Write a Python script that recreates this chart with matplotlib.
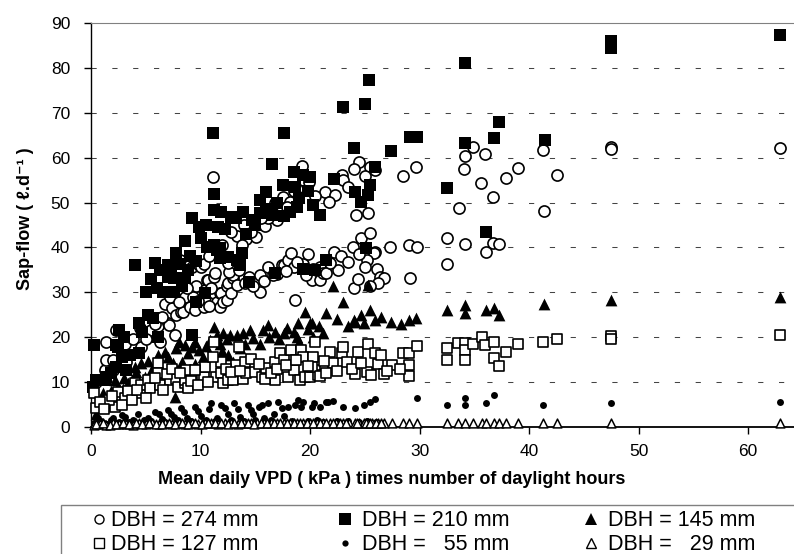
import matplotlib.pyplot as plt
from matplotlib.lines import Line2D
from matplotlib.patches import Rectangle

plt.rcParams['font.family'] = ['Liberation Sans', 'DejaVu Sans']

# DBH = 274 mm
x_274 = [0.5, 1.3, 2.0, 1.4, 2.0, 1.4, 2.3, 3.1, 3.8, 4.5, 4.6, 5.5, 6.1, 6.3,
         7.0, 7.1, 7.7, 6.8, 7.4, 7.8, 8.2, 8.4, 8.6, 9.0, 9.3, 9.5, 10.3, 9.6,
         10.4, 10.4, 10.6, 10.7, 11.2, 11.3, 11.2, 11.5, 11.8, 11.8, 11.9, 12.1,
         12.4, 12.4, 12.5, 12.8, 13.0, 13.0, 13.3, 14.1, 14.4, 15.4, 15.4, 16.2,
         17.0, 17.4, 17.6, 18.0, 18.3, 18.5, 19.4, 20.0, 20.2, 20.9, 20.9, 21.2,
         20.3, 21.5, 22.6, 22.2, 23.9, 24.7, 25.5, 25.9, 25.8, 25.2, 25.0, 26.1,
         26.4, 26.8, 26.2, 24.0, 27.3, 29.0, 29.8, 29.1, 18.6, 9.2, 9.9, 8.1,
         10.0, 10.3,
         3.2, 5.0, 5.8, 6.5, 7.2, 8.0, 8.8, 9.8, 10.8, 11.0, 12.6, 13.5, 14.8,
         15.8, 16.6, 17.8, 18.8, 19.8, 19.6, 21.8, 22.8, 23.5, 24.5, 24.4, 25.5,
         10.8, 12.5,
         11.1, 13.3, 14.2, 15.1, 15.9, 16.5, 17.0, 17.5, 18.2, 18.8, 19.3, 14.6,
         16.2, 17.9, 21.4, 22.3, 21.7, 22.9, 23.0, 24.5, 25.5, 25.9, 25.0, 24.2,
         25.3, 28.5, 29.7, 12.0, 12.8, 14.0, 15.5, 16.8, 18.5, 19.9, 20.5, 23.5,
         24.0, 13.8,
         32.5, 32.5, 33.6, 34.2, 34.1, 34.2, 34.9, 35.6, 36.0, 36.7, 36.7, 37.3,
         36.1, 37.9, 39.0, 41.3, 41.4, 42.6, 47.5, 47.5, 62.9]
y_274 = [10.0, 12.7, 12.7, 14.9, 14.9, 19.0, 21.6, 18.6, 19.5, 22.0, 17.9, 21.5, 22.5, 19.0,
         23.1, 22.7, 20.5, 27.4, 26.4, 24.9, 25.7, 25.7, 29.0, 26.8, 29.0, 26.1, 26.8, 31.3,
         30.5, 29.0, 32.7, 32.7, 33.5, 34.2, 29.8, 27.9, 26.8, 29.8, 29.8, 27.9,
         28.3, 31.3, 32.0, 29.8, 33.1, 33.9, 31.6, 32.0, 33.5, 33.9, 30.1, 35.7,
         34.0, 36.1, 36.1, 37.2, 38.7, 35.7, 36.4, 35.0, 32.7, 35.7, 32.7, 34.2,
         35.3, 34.2, 35.0, 39.0, 40.2, 42.0, 43.3, 39.0, 38.7, 37.2, 35.7, 35.3,
         33.5, 33.1, 32.0, 30.9, 40.2, 40.5, 40.2, 33.3, 28.4, 35.7, 36.1, 37.2,
         35.7, 36.4,
         14.5, 19.5, 23.0, 24.5, 29.0, 27.8, 31.0, 28.0, 27.0, 31.0, 34.5, 35.0, 31.5,
         32.5, 33.8, 34.8, 36.8, 38.5, 33.8, 36.5, 38.0, 36.8, 38.5, 33.0, 31.5,
         38.0, 36.5,
         55.7, 42.5, 41.8, 42.4, 44.8, 48.0, 46.1, 51.2, 50.2, 53.0, 58.1, 43.5,
         46.5, 49.0, 52.4, 51.7, 50.2, 56.1, 55.0, 59.1, 58.0, 57.2, 55.9, 47.2,
         47.6, 55.9, 58.0, 40.5, 43.5, 45.0, 46.5, 50.0, 52.5, 54.5, 51.5, 53.5,
         57.5, 40.5,
         42.2, 36.3, 48.8, 40.7, 57.5, 60.4, 62.4, 54.3, 60.8, 51.3, 41.1, 40.7,
         38.9, 55.4, 57.6, 61.8, 48.2, 56.1, 62.4, 62.0, 62.2]

# DBH = 210 mm
x_210 = [0.2, 0.5, 1.3, 1.4, 0.3, 2.3, 2.5, 2.8, 3.2, 2.3, 4.4, 2.6, 4.4, 4.7,
         5.7, 6.1, 9.2, 4.0, 5.8, 7.0, 7.8, 8.0, 7.0, 7.6, 8.6, 8.9, 6.0, 6.6,
         7.6, 8.6, 9.2, 9.9, 9.6, 10.4, 10.6, 11.2, 11.8, 11.5, 11.8, 12.5, 13.3,
         13.8, 13.6, 11.2, 11.9, 11.6, 13.2, 13.9, 14.7, 15.4, 16.5, 17.6, 18.2,
         18.8, 11.1, 17.6, 16.5, 11.2, 18.5, 19.4, 20.0, 18.6, 16.0, 15.4, 14.4,
         16.8, 19.4, 20.5, 20.3, 20.9, 21.5, 22.2, 23.0, 25.0, 25.4, 24.0, 24.1,
         24.7, 25.3, 25.5, 25.9, 25.1, 27.4, 29.1, 29.8, 32.5, 34.2, 34.2, 36.1,
         36.8, 37.3, 41.5, 47.5, 47.5, 62.9,
         5.0, 5.5, 6.3, 7.3, 8.3, 9.0, 9.6, 10.0, 10.5, 12.2, 12.8, 14.2, 15.0,
         16.0, 17.0, 17.5, 19.0, 19.8, 1.8, 3.6, 3.0, 5.2]
y_210 = [9.0, 10.5, 10.5, 11.2, 18.3, 18.3, 17.9, 15.7, 12.7, 13.4, 16.4, 21.6, 23.1, 21.2,
         24.2, 20.1, 20.5, 36.1, 36.6, 36.1, 38.7, 36.4, 33.5, 33.1, 33.1, 35.0, 30.9, 30.1,
         30.1, 41.5, 46.5, 44.6, 27.9, 29.8, 40.2, 40.5, 39.8, 39.4, 37.6, 37.9, 37.2,
         38.7, 36.1, 48.3, 48.0, 44.6, 46.5, 48.0, 46.1, 47.6, 47.2, 46.9, 48.0,
         49.1, 65.4, 65.4, 58.6, 52.0, 56.9, 56.1, 55.7, 53.5, 52.4, 50.6, 32.4,
         34.2, 35.3, 35.0, 49.4, 47.2, 37.3, 55.3, 71.2, 71.9, 77.4, 62.1, 52.4,
         50.2, 51.7, 53.9, 58.0, 39.9, 61.5, 64.5, 64.5, 53.3, 81.0, 63.2, 43.5,
         64.3, 68.0, 63.9, 84.5, 86.0, 87.3,
         30.0, 33.0, 35.0, 35.5, 31.5, 38.0, 37.0, 42.0, 45.0, 44.0, 46.8, 43.0, 45.0,
         48.5, 50.0, 54.0, 51.0, 52.5, 12.0, 16.0, 20.0, 25.0]

# DBH = 145 mm
x_145 = [0.5, 1.1, 1.8, 2.5, 3.4, 4.1, 4.9, 4.0, 4.6, 5.5, 6.1, 7.0, 7.7, 7.8,
         8.3, 8.9, 9.9, 9.5, 6.5, 7.3, 9.2, 10.2, 10.9, 11.2, 11.8, 12.1, 12.5,
         12.7, 13.0, 13.3, 13.6, 14.1, 14.5, 15.4, 16.2, 16.3, 17.6, 17.9, 18.5,
         18.8, 18.9, 19.5, 20.0, 20.3, 20.2, 21.5, 22.1, 23.0, 24.0, 24.1, 24.7,
         24.9, 25.3, 25.5, 25.9, 27.4, 29.0, 29.7, 32.5, 34.2, 34.2, 36.1, 36.8,
         37.3, 41.4, 47.5, 62.9,
         0.8, 1.5, 2.2, 2.9, 3.0, 3.7, 5.2, 5.8, 6.8, 7.5, 8.0, 8.6, 9.5, 10.5,
         11.5, 12.0, 12.4, 13.9, 14.8, 15.7, 16.8, 17.2, 19.0, 19.8, 20.8, 21.2,
         22.5, 23.5, 26.5, 28.3]
y_145 = [3.0, 7.5, 8.0, 9.0, 9.7, 12.3, 11.2, 13.4, 14.2, 12.5, 16.0, 15.7, 6.7, 17.5,
         14.5, 16.4, 17.1, 14.0, 12.0, 11.0, 17.9, 15.5, 19.4, 22.3, 18.6, 20.9, 16.0,
         20.5, 14.5, 20.5, 17.5, 18.6, 21.6, 18.6, 22.7, 20.1, 20.9, 22.0, 21.2,
         20.1, 23.1, 25.7, 23.2, 20.1, 23.1, 25.3, 31.3, 27.9, 23.8, 23.5, 24.9,
         23.1, 31.6, 26.1, 23.8, 23.5, 23.8, 24.2, 26.1, 27.2, 25.3, 26.1, 26.4,
         24.9, 27.5, 28.2, 28.9,
         5.0, 6.0, 10.5, 8.5, 11.0, 10.5, 14.8, 13.5, 16.8, 14.2, 19.0, 18.2, 19.0, 18.0,
         20.5, 17.0, 19.5, 21.0, 19.8, 21.5, 21.2, 19.6, 19.0, 21.8, 22.5, 21.0,
         24.0, 22.5, 24.5, 23.0]

# DBH = 127 mm
x_127 = [0.3, 0.5, 1.6, 2.2, 2.5, 3.1, 1.6, 4.0, 4.6, 4.6, 5.2, 5.4, 6.3, 6.1,
         6.1, 7.2, 7.8, 7.9, 8.6, 8.6, 8.7, 8.9, 10.1, 10.3, 10.4, 11.2, 11.4,
         11.9, 11.9, 12.1, 12.5, 13.0, 13.2, 13.5, 13.9, 14.1, 14.2, 15.0, 15.6,
         16.0, 16.8, 16.8, 17.3, 17.6, 18.0, 18.3, 18.5, 19.1, 19.2, 19.4, 19.5,
         20.3, 20.5, 20.0, 20.7, 20.5, 20.2, 20.9, 21.8, 22.1, 22.9, 23.0, 24.1,
         24.4, 25.2, 25.3, 25.9, 26.2, 26.8, 27.5, 28.5, 29.0, 29.0, 29.0, 29.8,
         0.8, 1.2, 1.9, 2.8, 3.4, 3.7, 4.2, 5.0, 5.8, 6.6, 6.9, 7.4, 8.1, 9.1,
         9.5, 9.8, 10.7, 11.1, 12.3, 12.8, 13.6, 14.6, 15.3, 15.9, 16.4, 17.0,
         17.8, 18.7, 19.8, 21.3, 21.5, 22.5, 23.4, 23.8, 24.7, 25.6, 26.5, 27.0,
         28.2,
         32.5, 32.5, 33.5, 34.2, 34.2, 34.2, 34.9, 35.7, 36.0, 36.8, 36.8, 37.3,
         37.9, 39.0, 41.3, 42.6, 47.5, 47.5, 62.9]
y_127 = [7.5, 4.2, 5.3, 4.5, 7.9, 6.4, 6.0, 9.7, 7.5, 9.4, 10.5, 8.6, 9.4, 14.2,
         12.1, 10.5, 10.8, 9.0, 9.7, 10.5, 12.7, 8.6, 11.6, 11.2, 13.4, 19.0, 11.2,
         14.5, 12.0, 9.7, 10.5, 10.5, 13.8, 17.9, 10.8, 14.5, 12.0, 12.3, 11.2,
         13.1, 14.5, 10.5, 16.4, 14.9, 11.2, 17.1, 12.7, 10.5, 17.1, 15.7, 11.2,
         15.7, 12.7, 11.2, 11.6, 19.0, 13.4, 11.4, 16.6, 14.2, 16.4, 17.9, 11.8,
         16.8, 12.3, 18.6, 16.5, 14.0, 11.8, 13.8, 16.4, 16.4, 13.8, 11.4, 18.0,
         5.5, 4.0, 6.8, 5.0, 8.0, 6.0, 8.2, 6.5, 11.0, 8.2, 11.8, 13.0, 12.0, 10.2,
         12.6, 9.4, 10.0, 15.5, 13.0, 12.2, 12.5, 15.2, 14.0, 10.6, 12.0, 13.0,
         13.8, 15.0, 13.6, 14.8, 12.0, 12.5, 14.5, 13.0, 14.3, 11.6, 16.0, 12.5,
         13.0,
         17.7, 14.9, 18.8, 18.7, 17.1, 14.9, 18.6, 20.0, 18.3, 19.0, 15.3, 13.7,
         16.8, 18.6, 18.9, 19.5, 20.2, 19.5, 20.5]

# DBH = 55 mm
x_55 = [0.3, 0.6, 1.2, 1.8, 2.3, 2.8, 3.5, 4.3, 4.8, 5.2, 5.8, 6.5, 7.0, 7.6,
        8.2, 8.8, 9.5, 10.0, 10.5, 11.0, 11.5, 11.9, 12.5, 13.1, 13.6, 14.3,
        14.8, 15.3, 15.8, 16.2, 16.7, 17.1, 17.6, 18.0, 18.9, 19.2, 19.4, 20.2,
        20.4, 20.9, 21.5, 21.6, 22.1, 23.0, 24.1, 24.9, 25.5, 25.9,
        0.9, 1.5, 2.0, 2.6, 3.1, 3.8, 4.5, 5.5, 6.2, 6.8, 7.3, 7.9, 8.5, 9.1,
        9.8, 10.3, 10.8, 11.3, 12.2, 12.8, 13.4, 14.0, 14.6, 15.0, 15.6, 16.4,
        17.4, 18.4, 18.6, 19.8, 20.6, 21.2, 22.5, 23.5, 24.5, 25.2, 26.0,
        29.8, 32.5, 34.2, 34.2, 36.1, 36.8, 41.3, 47.5, 62.9]
y_55 = [0.8, 1.9, 1.0, 1.5, 0.8, 2.7, 1.2, 3.0, 1.5, 2.0, 3.4, 1.8, 3.8, 2.2,
        4.2, 2.0, 4.5, 2.5, 1.5, 5.3, 2.0, 4.9, 3.0, 5.3, 2.2, 4.9,
        3.0, 4.5, 2.0, 5.3, 3.0, 5.6, 2.5, 4.5, 6.0, 4.5, 5.6, 4.5,
        5.3, 4.5, 5.6, 5.6, 5.9, 4.5, 4.2, 4.9, 5.6, 6.3,
        1.3, 0.6, 2.0, 1.1, 2.3, 1.6, 1.0, 1.3, 2.8, 1.2, 3.0, 1.5, 3.3, 1.3,
        3.6, 1.2, 4.0, 1.4, 4.2, 1.5, 4.0, 1.3, 3.8, 1.6, 4.8, 1.5,
        4.2, 1.4, 5.0, 1.3, 1.5, 1.2, 1.3, 1.4, 1.2, 1.4, 1.2,
        6.5, 4.9, 6.5, 4.9, 5.4, 7.1, 5.0, 5.4, 5.5]

# DBH = 29 mm
x_29 = [0.3, 0.8, 1.4, 2.0, 2.6, 3.2, 3.8, 4.4, 5.0, 5.6, 6.2, 6.8, 7.4, 8.0,
        8.6, 9.2, 9.8, 10.4, 11.0, 11.6, 12.2, 12.8, 13.4, 14.0, 14.6, 15.2,
        15.8, 16.4, 17.0, 17.6, 18.2, 18.8, 19.4, 20.0, 20.6, 21.2, 21.8, 22.4,
        23.0, 23.6, 24.1, 24.5, 24.9, 25.3, 25.7, 26.2, 26.8, 27.5, 28.5, 29.0,
        29.8,
        0.5, 1.1, 1.7, 2.3, 2.9, 3.5, 4.1, 4.7, 5.3, 5.9, 6.5, 7.1, 7.7, 8.3,
        8.9, 9.5, 10.1, 10.7, 11.3, 11.9, 12.5, 13.1, 13.7, 14.3, 14.9, 15.5,
        16.1, 16.7, 17.3, 17.9, 18.5, 19.1, 19.7, 20.3, 20.9, 21.5, 22.1, 22.7,
        23.3, 24.3, 25.1, 25.5, 26.0, 26.5,
        32.5, 33.5, 34.2, 34.9, 35.7, 36.1, 36.8, 37.3, 37.9, 39.0, 41.3,
        42.6, 47.5, 62.9]
y_29 = [0.4, 0.6, 0.5, 0.8, 0.6, 0.7, 0.5, 0.9, 0.6, 0.8, 0.7, 0.9, 0.6, 0.8,
        0.7, 0.9, 0.6, 0.8, 0.9, 0.7, 0.8, 1.0, 0.7, 0.9, 0.8, 1.0,
        0.8, 0.9, 1.0, 0.8, 0.9, 1.0, 0.9, 0.8, 1.0, 0.9, 0.8, 1.0,
        0.9, 0.8, 1.0, 0.9, 0.8, 1.0, 0.9, 0.8, 0.9, 0.8, 0.9, 0.8,
        0.9,
        0.6, 0.8, 0.5, 0.7, 0.9, 0.6, 0.8, 0.6, 0.9, 0.7, 0.6, 0.8, 0.7, 0.9,
        0.6, 0.8, 0.7, 0.9, 0.8, 0.9, 0.7, 0.9, 0.8, 0.9, 0.7, 0.9,
        0.8, 0.9, 0.9, 0.8, 1.0, 0.9, 0.8, 1.0, 0.9, 0.8, 0.9, 1.0,
        0.8, 0.9, 1.0, 0.8, 0.9, 0.8,
        0.9, 0.8, 0.9, 0.8, 0.9, 0.8, 0.9, 0.8, 0.9, 0.8, 0.8,
        0.8, 0.8, 0.8]

legend_labels = ['DBH = 274 mm', 'DBH = 210 mm', 'DBH = 145 mm',
                 'DBH = 127 mm', 'DBH =   55 mm', 'DBH =   29 mm']

fig = plt.figure(figsize=(7.94, 5.54), dpi=100)
ax = fig.add_axes([91 / 794, 1 - 427 / 554, 703 / 794, 404 / 554])

# series in legend order, later ones on top
ax.scatter(x_274, y_274, marker='o', s=64, facecolors='white', edgecolors='black',
           linewidths=1.2, zorder=3, clip_on=False)
ax.scatter(x_210, y_210, marker='s', s=81, c='black', linewidths=0, zorder=4, clip_on=False)
ax.scatter(x_145, y_145, marker='^', s=72, c='black', linewidths=0, zorder=5, clip_on=False)
ax.scatter(x_127, y_127, marker='s', s=62, facecolors='white', edgecolors='black',
           linewidths=1.2, zorder=6, clip_on=False)
ax.scatter(x_55, y_55, marker='o', s=25, c='black', linewidths=0, zorder=7, clip_on=False)
ax.scatter(x_29, y_29, marker='^', s=40, facecolors='white', edgecolors='black',
           linewidths=1.1, zorder=8, clip_on=False)

ax.set_xlim(0, 64.2)
ax.set_ylim(0, 90)
ax.set_xticks(range(0, 61, 10))
ax.set_yticks(range(0, 91, 10))
for v in range(10, 90, 10):
    ax.axhline(v, color='#444444', lw=0.75, ls=(0, (5, 15)), zorder=1)

ax.spines['top'].set_color('#808080')
ax.spines['right'].set_visible(False)
ax.spines['left'].set_linewidth(1.0)
ax.spines['bottom'].set_linewidth(1.3)
ax.tick_params(axis='both', direction='out', length=5, width=1, labelsize=12.5)
ax.tick_params(axis='y', pad=10)
ax.tick_params(axis='x', pad=7)

fig.text(25 / 794, 1 - 219 / 554, 'Sap-flow ( ℓ.d⁻¹ )', rotation=90,
         ha='center', va='center', fontsize=13, fontweight='bold')
fig.text(392 / 794, 1 - 479 / 554, 'Mean daily VPD ( kPa ) times number of daylight hours',
         ha='center', va='center', fontsize=13, fontweight='bold')

# legend box
fig.add_artist(Rectangle((61 / 794, -0.1), 1.0, 0.1 + 1 - 505 / 554, transform=fig.transFigure,
                         fill=False, edgecolor='#808080', lw=1))
keys = [dict(marker='o', ms=6.5, mfc='white', mec='black', mew=1.0),
        dict(marker='s', ms=9, mfc='black', mec='black', mew=0),
        dict(marker='^', ms=8.5, mfc='black', mec='black', mew=0),
        dict(marker='s', ms=6.5, mfc='white', mec='black', mew=1.0),
        dict(marker='o', ms=4.5, mfc='black', mec='black', mew=0),
        dict(marker='^', ms=6.5, mfc='white', mec='black', mew=1.0)]
key_x = [99, 345, 591]
text_x = [111, 362, 608]
row_c = [519, 543]
row_base = [525.5, 549.5]
for i, (lab, kw) in enumerate(zip(legend_labels, keys)):
    r, c = divmod(i, 3)
    fig.add_artist(Line2D([key_x[c] / 794], [1 - row_c[r] / 554], transform=fig.transFigure,
                          ls='none', **kw))
    fig.text(text_x[c] / 794, 1 - row_base[r] / 554, lab, ha='left', va='baseline', fontsize=15.5)

fig.savefig('out.png', dpi=100)
